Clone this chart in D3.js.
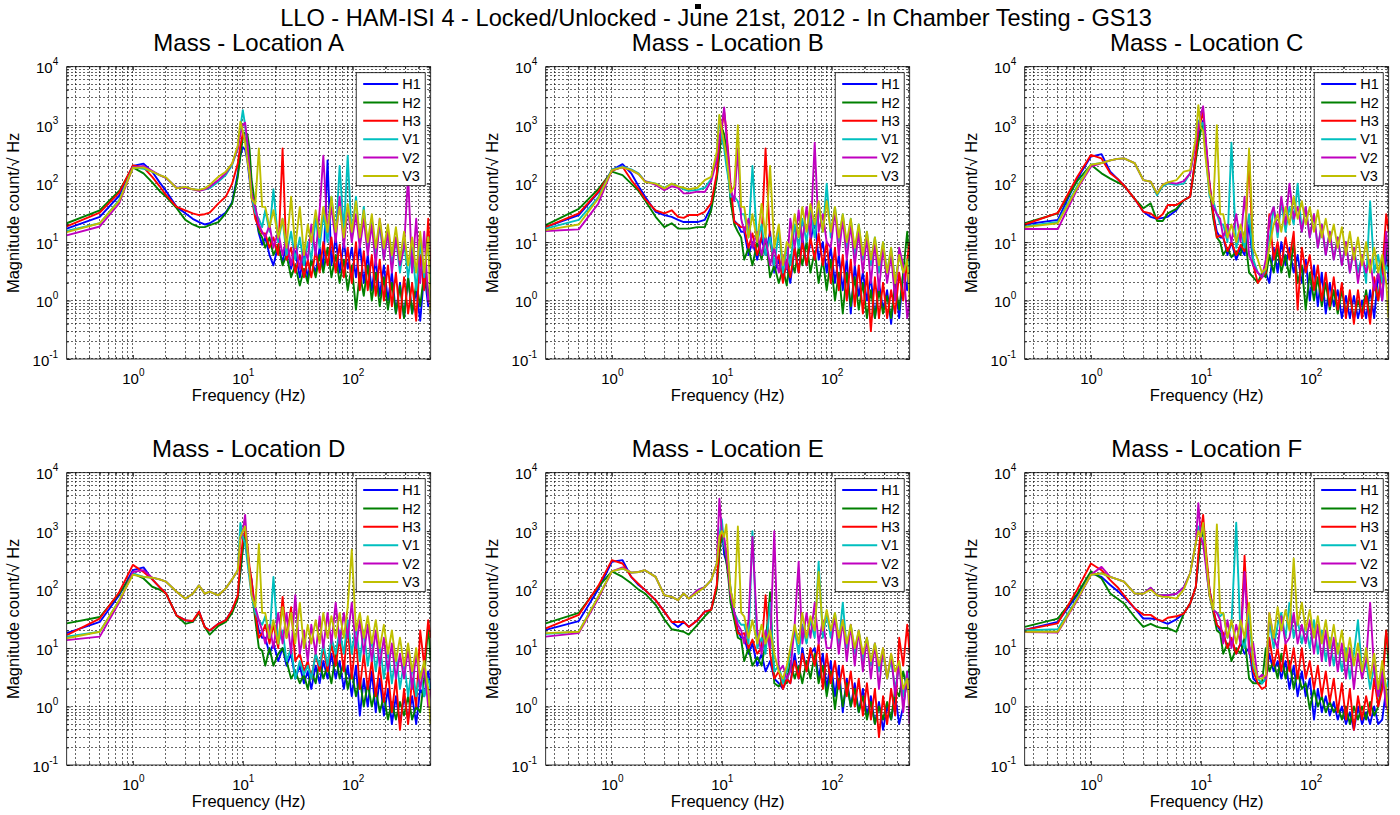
<!DOCTYPE html>
<html>
<head>
<meta charset="utf-8">
<script src="https://cdn.jsdelivr.net/npm/d3@7"></script>
<style>
  body { margin: 0; background: #fff; }
  svg { font-family: "Liberation Sans", Arial, sans-serif; }
</style>
</head>
<body>
<div id="chart"></div>
<script>
const mainTitle = "LLO - HAM-ISI 4 - Locked/Unlocked - June 21st, 2012 - In Chamber Testing - GS13";
const locationTitles = ["Mass - Location A", "Mass - Location B", "Mass - Location C",
                        "Mass - Location D", "Mass - Location E", "Mass - Location F"];
const seriesNames = ["H1", "H2", "H3", "V1", "V2", "V3"];
const seriesColors = ["#0000ff", "#008000", "#ff0000", "#00bfbf", "#bf00bf", "#bfbf00"];
const xTicks = [1, 10, 100];
const yTicks = [0.1, 1, 10, 100, 1000, 10000];

// frequency points (Hz) shared by every curve
const freqs = [
  0.25, 0.5, 0.75, 1, 1.25, 1.5, 1.75, 2, 2.5, 3, 3.5, 4, 4.5, 5, 6, 7, 8, 9, 9.5, 10, 10.5, 11, 11.5, 12, 13, 14, 15,
  16, 17.5, 19, 21, 23, 25, 27.5, 30, 33, 36, 39, 42, 46, 50, 54, 59, 64, 70, 76, 83, 90,
  98, 107, 116, 126, 137, 149, 162, 176, 192, 209, 227, 247, 269, 293, 319, 347, 378, 411, 447, 486, 512
];

// Location A
const A_H1 = [17, 27, 62, 200, 220, 160, 105, 75, 40, 31, 25, 22, 20, 21, 26, 32, 48, 150, 300, 420, 380, 250, 120, 60, 30, 14, 9,
  12, 6, 4, 9, 4.5, 10, 3.5, 7, 2.5, 6, 2.5, 5, 3, 8, 3.5, 250, 4, 12, 3, 10, 3.5,
  8, 2.5, 9, 2, 6, 1.5, 5, 1.2, 4, 1, 3, 0.6, 2, 0.5, 2.5, 0.6, 1.5, 0.45, 3, 0.8, 1.5];
const A_H2 = [21, 35, 75, 190, 150, 105, 75, 60, 38, 24, 20, 18, 18, 19.5, 22, 31, 46, 130, 300, 600, 750, 700, 400, 120, 40, 15, 12,
  8, 12, 6, 9, 4, 6, 2.5, 4, 1.8, 3.5, 2, 5, 2.5, 6, 3, 8, 2.5, 6, 2, 5, 1.5,
  4, 0.7, 3, 1.2, 4, 1, 3, 0.8, 2.5, 0.7, 2, 0.6, 1.8, 0.5, 2.5, 0.6, 2, 0.8, 3, 1.2, 2.5];
const A_H3 = [18.5, 32, 70, 205, 190, 130, 90, 64, 40, 35, 31, 29, 30, 32, 46, 60, 100, 220, 450, 720, 600, 350, 150, 60, 25, 18, 14,
  14, 8, 12, 6, 400, 5, 8, 3, 6, 2.5, 5, 2.5, 7, 3, 10, 4, 12, 3, 9, 2.5, 8,
  2, 10, 1.5, 7, 1.5, 6, 1.2, 5, 1, 4, 0.8, 3, 0.5, 2.5, 0.6, 2, 0.45, 6, 1.5, 25, 3];
const A_V1 = [15.5, 21, 52, 190, 180, 160, 140, 125, 85, 85, 80, 78, 80, 83, 108, 140, 209, 400, 900, 1800, 1000, 400, 150, 60, 31, 25, 18,
  35, 15, 80, 10, 25, 6, 15, 5, 12, 4, 10, 5, 25, 8, 30, 10, 60, 12, 200, 15, 300,
  12, 60, 10, 40, 8, 25, 6, 20, 5, 15, 4, 12, 3, 10, 2.5, 8, 1.5, 10, 2.5, 12, 2];
const A_V2 = [13, 18.5, 46, 190, 200, 165, 140, 125, 85, 85, 80, 75, 80, 88, 115, 150, 220, 400, 700, 1000, 1100, 500, 180, 70, 40, 20, 15,
  12, 20, 8, 15, 6, 12, 4, 10, 3.5, 8, 5, 20, 6, 35, 300, 15, 40, 10, 60, 8, 40,
  10, 30, 8, 25, 6, 20, 4, 25, 5, 15, 3, 12, 4, 8, 140, 3, 25, 2, 15, 1, 0.8];
const A_V3 = [14.8, 21, 50, 185, 190, 160, 140, 128, 83, 88, 80, 78, 83, 95, 131, 160, 220, 450, 1150, 800, 500, 250, 150, 55, 45, 400, 40,
  40, 18, 35, 12, 25, 8, 60, 8, 40, 6, 20, 10, 35, 12, 40, 15, 60, 15, 40, 12, 45,
  15, 50, 12, 35, 10, 30, 8, 25, 8, 20, 6, 18, 5, 15, 4, 12, 3, 15, 3, 12, 0.6];

// Location B
const B_H1 = [18, 29, 70, 170, 215, 150, 90, 60, 33, 29, 27, 24, 22, 22, 22, 24, 40, 130, 400, 700, 500, 300, 130, 60, 23, 20, 15,
  15, 6, 10, 5, 12, 6, 15, 3, 5, 2.5, 4, 2, 8, 3, 12, 4, 10, 25, 5, 10, 3,
  8, 2, 6, 1.5, 5, 0.6, 4, 1.2, 3, 1, 2.5, 0.5, 2, 0.7, 1.5, 0.4, 2, 0.5, 3, 1.5, 8];
const B_H2 = [19.5, 37, 80, 160, 140, 100, 75, 52, 27, 18, 21, 17, 17, 17, 18, 18, 35, 120, 300, 900, 700, 400, 150, 50, 20, 15, 12,
  5, 8, 4, 10, 5, 12, 2.5, 4, 2, 3.5, 1.8, 6, 3, 8, 4, 10, 3, 7, 2, 5, 1.5,
  5, 1, 3, 0.6, 3, 0.8, 2.5, 0.7, 2, 0.5, 1.5, 0.5, 1.5, 0.6, 1.2, 0.5, 2, 0.7, 3, 15, 4];
const B_H3 = [18, 31, 72, 165, 195, 115, 80, 55, 35, 31, 35, 27, 26, 29, 29, 33, 46, 150, 500, 900, 1700, 800, 300, 100, 22, 20, 18,
  18, 8, 14, 6, 12, 400, 10, 4, 6, 2, 5, 2.5, 8, 3, 10, 4, 12, 5, 14, 4, 10,
  2, 8, 1.5, 6, 1, 5, 0.8, 4, 0.6, 3, 0.3, 2.5, 0.5, 2, 0.5, 1.5, 0.6, 3, 1, 5, 10];
const B_V1 = [17, 24, 58, 175, 195, 175, 150, 110, 100, 85, 100, 90, 80, 75, 78, 85, 120, 300, 1450, 600, 400, 200, 120, 60, 60, 50, 30,
  30, 12, 200, 10, 20, 6, 12, 4, 15, 3, 8, 4, 20, 8, 25, 10, 35, 12, 40, 15, 100,
  12, 40, 10, 30, 8, 25, 6, 20, 5, 15, 4, 12, 3, 10, 3, 8, 2, 6, 3, 5, 3];
const B_V2 = [15.5, 16.5, 45, 170, 190, 170, 145, 110, 95, 77, 90, 85, 68, 68, 73, 72, 110, 250, 600, 1000, 2000, 700, 250, 80, 50, 400, 25,
  15, 25, 8, 15, 6, 12, 4, 8, 3, 6, 3.5, 25, 8, 35, 10, 40, 12, 500, 15, 30, 10,
  8, 35, 6, 25, 5, 20, 4, 15, 3, 12, 2, 10, 1.5, 8, 2, 6, 1, 8, 4, 0.5, 1];
const B_V3 = [16, 20, 55, 170, 190, 170, 145, 107, 100, 83, 100, 90, 85, 80, 85, 115, 130, 350, 1500, 800, 500, 300, 150, 70, 90, 1000, 40,
  40, 12, 30, 10, 45, 12, 200, 8, 20, 4, 10, 8, 30, 12, 40, 15, 45, 20, 50, 15, 50,
  15, 40, 12, 30, 10, 25, 8, 20, 6, 15, 5, 12, 4, 10, 3, 8, 2, 6, 3, 5, 1];

// Location C
const C_H1 = [20, 24, 120, 290, 320, 160, 120, 93, 55, 33, 27, 25, 26, 27, 35, 52, 60, 300, 600, 900, 1200, 500, 200, 100, 30, 15, 12,
  12, 6, 10, 5, 8, 6, 20, 4, 3, 2.5, 3, 2, 8, 3, 10, 4, 8, 3, 6, 2, 5,
  1, 4, 0.8, 3, 0.6, 2, 0.8, 1.5, 0.5, 1.2, 0.5, 1.2, 0.5, 1, 0.5, 1.5, 0.5, 3, 1, 8, 2];
const C_H2 = [21, 31, 110, 210, 150, 122, 105, 93, 55, 38, 46, 23, 23, 31, 37, 52, 60, 250, 500, 800, 1000, 600, 200, 80, 25, 12, 10,
  6, 8, 5.5, 7, 6, 15, 3, 2.5, 2, 3, 2.5, 6, 3, 8, 3, 6, 2.5, 10, 2, 4, 0.7,
  3, 1, 2.5, 0.8, 2, 0.7, 1.5, 0.6, 1.5, 0.6, 1.2, 0.5, 1, 0.6, 1.5, 0.5, 2, 1, 5, 10, 3];
const C_H3 = [20, 31.5, 130, 310, 270, 150, 120, 93, 55, 33, 31, 25, 30, 43, 43, 52, 60, 300, 800, 1200, 1700, 600, 250, 100, 30, 12, 13,
  12, 7, 10, 6, 9, 7, 300, 4, 2, 2.5, 3, 30, 5, 10, 4, 12, 5, 15, 0.7, 8, 3,
  6, 1.5, 4, 1, 3, 0.8, 2.5, 0.7, 2, 0.5, 1.5, 0.4, 1.5, 0.5, 1.2, 0.4, 2.5, 1, 3, 30, 15];
const C_V1 = [18.5, 22, 90, 210, 225, 250, 265, 270, 225, 115, 108, 63, 90, 100, 95, 100, 150, 550, 1200, 1000, 1100, 400, 150, 60, 50, 30, 20,
  20, 10, 500, 8, 15, 8, 30, 5, 3, 2.5, 3.5, 10, 40, 12, 50, 15, 40, 20, 100, 15, 40,
  12, 30, 8, 20, 6, 15, 5, 12, 4, 10, 3, 8, 3, 6, 2, 50, 3, 6, 2, 4, 3];
const C_V2 = [16.7, 16.7, 80, 195, 225, 250, 265, 270, 225, 115, 108, 68, 95, 105, 100, 110, 150, 500, 900, 1500, 2100, 700, 250, 80, 40, 30, 25,
  12, 20, 10, 30, 10, 60, 6, 4, 3, 2.5, 5, 25, 40, 15, 60, 20, 100, 25, 40, 15, 40,
  12, 30, 8, 20, 6, 15, 5, 12, 4, 10, 3, 8, 2, 6, 3, 5, 1.5, 3, 1, 15, 4];
const C_V3 = [18, 21, 85, 210, 225, 250, 265, 270, 225, 115, 108, 68, 95, 105, 115, 160, 170, 600, 2200, 900, 800, 300, 150, 70, 45, 1000, 30,
  30, 12, 20, 10, 20, 10, 400, 8, 5, 3, 3.5, 8, 20, 30, 15, 40, 20, 60, 25, 50, 20,
  40, 15, 35, 12, 25, 10, 20, 8, 18, 6, 15, 5, 12, 4, 10, 3, 8, 3, 6, 2, 0.5];

// Location D
const D_H1 = [18, 28, 80, 215, 240, 150, 110, 86, 36, 30, 28, 42, 23, 20, 26, 30, 45, 75, 200, 500, 800, 400, 200, 150, 40, 20, 15,
  15, 8, 12, 6, 10, 5, 8, 3, 5, 2.5, 4, 2, 5, 2.5, 6, 3, 8, 3, 6, 2, 5,
  1.5, 5, 0.7, 3, 1, 4, 0.8, 3, 0.7, 2, 0.5, 1.5, 0.5, 1.5, 0.6, 1.5, 0.5, 2, 1.5, 4, 2];
const D_H2 = [26.5, 34, 85, 190, 155, 112, 100, 86, 36, 26, 28, 40, 23, 17, 24, 28, 40, 70, 200, 500, 1000, 500, 200, 100, 30, 10, 9,
  5, 10, 5, 8, 10, 6, 3, 4, 2.5, 3.5, 2, 4, 2.5, 6, 3, 5, 2.5, 8, 3, 6, 2,
  4, 1.5, 3, 1, 2.5, 1, 2, 0.8, 1.5, 0.6, 1.2, 0.6, 1.2, 0.7, 1.5, 0.6, 1, 0.8, 3, 25, 6];
const D_H3 = [16.7, 32, 90, 265, 200, 150, 110, 86, 36, 30, 29, 42, 23, 20, 26, 30, 45, 80, 300, 700, 1000, 600, 250, 150, 40, 15, 18,
  25, 12, 25, 10, 75, 15, 50, 6, 8, 4, 6, 3, 8, 4, 10, 4, 12, 5, 15, 4, 25,
  3, 15, 2, 8, 2, 6, 1.5, 5, 1.2, 4, 0.8, 3, 0.4, 2, 0.5, 3, 1, 20, 5, 30, 15];
const D_V1 = [15.7, 19, 65, 190, 165, 160, 150, 137, 92, 70, 85, 118, 85, 92, 80, 105, 150, 215, 1380, 800, 600, 300, 150, 80, 40, 30, 25,
  35, 15, 165, 12, 20, 6, 10, 3, 6, 3.5, 5, 3, 8, 5, 12, 5, 15, 8, 20, 8, 30,
  8, 25, 6, 20, 5, 15, 4, 12, 3, 10, 2.5, 8, 2, 6, 1.5, 5, 1.5, 4, 1.5, 3, 2];
const D_V2 = [13.7, 15.7, 60, 200, 215, 160, 150, 137, 92, 70, 85, 118, 85, 92, 80, 105, 150, 215, 700, 1000, 1900, 500, 200, 90, 50, 30, 20,
  12, 25, 10, 40, 12, 40, 8, 80, 8, 20, 6, 25, 8, 35, 10, 40, 12, 60, 12, 40, 15,
  60, 10, 30, 8, 25, 6, 20, 5, 15, 4, 12, 3, 8, 3, 10, 2, 8, 2, 5, 1, 2];
const D_V3 = [14.7, 19, 65, 180, 165, 160, 150, 137, 92, 70, 85, 118, 85, 92, 80, 105, 150, 215, 800, 1000, 1200, 500, 200, 80, 50, 600, 40,
  40, 15, 30, 12, 50, 15, 40, 12, 60, 10, 25, 12, 30, 12, 40, 15, 35, 15, 40, 15, 50,
  480, 20, 40, 15, 35, 12, 30, 10, 25, 8, 20, 6, 15, 5, 12, 4, 10, 3, 6, 2, 0.5];

// Location E
const E_H1 = [20.5, 29, 100, 300, 320, 165, 120, 99, 66, 42, 28, 23, 28, 23, 30, 42, 45, 110, 500, 1200, 400, 300, 200, 100, 37, 20, 15,
  15, 8, 12, 5, 8, 4, 6, 3, 2.5, 2, 3, 2.5, 8, 3, 10, 4, 8, 10, 3, 8, 2,
  6, 1.5, 5, 0.8, 3, 1, 2.5, 0.8, 2, 0.7, 1.5, 0.5, 1.2, 0.4, 1, 0.6, 1.5, 0.5, 1, 3, 2];
const E_H2 = [26.5, 40, 110, 205, 165, 128, 100, 86, 55, 31, 21, 20, 19, 17, 25, 35, 45, 100, 400, 900, 600, 300, 150, 60, 30, 15, 14,
  6, 10, 5, 7, 5, 12, 90, 2.5, 2.2, 3, 2.5, 6, 3, 5, 2.5, 6, 3, 8, 2.5, 5, 1.5,
  4, 0.9, 3, 1, 2.5, 1, 2, 0.8, 1.5, 0.6, 1.2, 0.5, 1, 0.6, 1.2, 0.6, 2, 1.5, 4, 2, 5];
const E_H3 = [21.8, 37, 115, 320, 280, 165, 125, 99, 66, 42, 28, 28, 28, 23, 30, 42, 45, 120, 600, 1000, 700, 400, 200, 100, 40, 18, 17,
  18, 10, 14, 8, 10, 80, 8, 3, 4, 2, 3, 2.5, 6, 3, 8, 4, 10, 5, 12, 2, 8,
  2.5, 6, 2, 5, 1.5, 4, 1, 3, 0.7, 2.5, 0.6, 2, 0.3, 1.5, 0.5, 2, 0.7, 15, 5, 25, 8];
const E_V1 = [17.5, 19, 75, 205, 230, 195, 200, 215, 165, 80, 75, 66, 86, 70, 98, 110, 145, 280, 800, 1600, 600, 400, 300, 100, 40, 30, 25,
  25, 12, 1000, 10, 15, 8, 60, 4, 5, 2.5, 4, 8, 20, 8, 25, 12, 30, 15, 300, 15, 40,
  15, 40, 12, 60, 10, 25, 8, 20, 6, 15, 5, 12, 4, 8, 3, 6, 2, 5, 1.5, 4, 3];
const E_V2 = [15.7, 18, 70, 205, 240, 195, 200, 215, 165, 80, 75, 66, 86, 70, 98, 110, 145, 280, 3600, 1000, 800, 400, 200, 80, 40, 25, 20,
  12, 30, 800, 20, 8, 20, 10, 1000, 4, 5, 3, 4, 25, 300, 12, 40, 15, 60, 12, 30, 10,
  10, 35, 8, 30, 6, 25, 5, 20, 4, 15, 3, 12, 2, 10, 3, 8, 1.5, 6, 0.8, 4, 0.5];
const E_V3 = [18, 19, 75, 205, 230, 195, 200, 215, 165, 80, 75, 66, 86, 70, 90, 110, 145, 280, 800, 1000, 800, 1300, 300, 100, 50, 1200, 40,
  35, 15, 30, 12, 25, 12, 20, 8, 4, 3, 5, 10, 25, 12, 40, 15, 35, 20, 200, 20, 45,
  20, 40, 15, 30, 12, 25, 10, 20, 8, 15, 6, 12, 5, 10, 3, 8, 4, 6, 2, 3, 1];

// Location F
const F_H1 = [20.5, 28, 80, 190, 165, 120, 95, 75, 48, 32, 32, 31, 28, 26, 31, 39, 58, 110, 300, 800, 1000, 400, 200, 100, 45, 25, 20,
  18, 10, 14, 8, 12, 8, 10, 3, 2.5, 2.5, 3, 8, 4, 6, 3, 6, 2, 5, 1.5, 4, 1.5,
  3, 0.6, 2, 0.8, 1.5, 0.7, 1.2, 0.6, 1, 0.5, 0.8, 0.4, 1, 0.5, 0.8, 0.5, 1, 0.5, 0.6, 2, 1];
const F_H2 = [23, 32, 85, 205, 155, 86, 70, 58, 34, 23, 26, 23, 22, 22, 19, 39, 58, 110, 300, 700, 1200, 500, 200, 80, 40, 20, 18,
  8, 12, 6, 10, 8, 15, 3, 2.5, 2.5, 2.5, 10, 4, 6, 3, 8, 3, 6, 2, 4, 2, 2.5,
  0.9, 2, 1, 1.5, 0.8, 1.2, 0.8, 1, 0.6, 1, 0.5, 1, 0.6, 1, 0.6, 1.2, 0.7, 1, 3, 20, 5];
const F_H3 = [20.5, 26.5, 100, 280, 215, 145, 110, 80, 48, 37, 37, 31, 29, 33, 35, 39, 58, 110, 400, 1000, 1900, 600, 250, 100, 45, 25, 22,
  18, 10, 15, 8, 12, 380, 12, 4, 2.5, 2, 2.2, 15, 5, 10, 4, 12, 4, 10, 3, 10, 3,
  6, 2, 5, 1.5, 4, 1.2, 3, 0.8, 2.5, 0.6, 2, 0.4, 1.5, 0.6, 1.5, 0.7, 3, 1, 2, 20, 8];
const F_V1 = [20, 21, 70, 180, 190, 165, 150, 137, 86, 85, 108, 80, 80, 80, 85, 110, 190, 620, 1200, 1000, 1200, 400, 150, 80, 45, 40, 35,
  40, 15, 25, 1400, 15, 10, 40, 5, 3, 2.5, 3, 30, 10, 25, 40, 15, 60, 15, 30, 12, 25,
  10, 30, 8, 20, 6, 15, 5, 12, 4, 10, 3, 8, 30, 4, 6, 2, 5, 1.5, 4, 2, 3];
const F_V2 = [18.8, 18.4, 65, 180, 245, 165, 150, 137, 86, 85, 108, 80, 80, 80, 85, 110, 190, 620, 3000, 800, 600, 300, 150, 80, 45, 40, 30,
  12, 30, 10, 25, 12, 200, 8, 12, 3, 3.5, 3, 40, 15, 10, 35, 12, 15, 40, 12, 25, 12,
  30, 8, 25, 6, 20, 5, 15, 4, 12, 3, 10, 2, 8, 3, 6, 60, 4, 1.5, 4, 1, 0.8];
const F_V3 = [19, 19, 68, 180, 190, 165, 150, 137, 86, 85, 100, 80, 75, 75, 70, 100, 190, 620, 1000, 800, 1380, 500, 200, 80, 45, 1300, 40,
  40, 15, 30, 12, 30, 15, 60, 6, 3, 3, 3.5, 40, 15, 50, 20, 45, 20, 340, 25, 60, 20,
  45, 15, 35, 12, 30, 10, 25, 8, 20, 6, 15, 5, 12, 4, 10, 3, 8, 2, 6, 2, 0.6];

const panels = [
  [A_H1, A_H2, A_H3, A_V1, A_V2, A_V3],
  [B_H1, B_H2, B_H3, B_V1, B_V2, B_V3],
  [C_H1, C_H2, C_H3, C_V1, C_V2, C_V3],
  [D_H1, D_H2, D_H3, D_V1, D_V2, D_V3],
  [E_H1, E_H2, E_H3, E_V1, E_V2, E_V3],
  [F_H1, F_H2, F_H3, F_V1, F_V2, F_V3]
];

const panelLefts = [66.7, 545.7, 1024.7];
const panelTops = [66.7, 472.7];
const panelW = 364, panelH = 292.3;

const svg = d3.select("#chart").append("svg")
  .attr("width", 1400)
  .attr("height", 815);

svg.append("text")
  .attr("x", 716)
  .attr("y", 25.5)
  .attr("text-anchor", "middle")
  .attr("font-size", 23.6)
  .text(mainTitle);

// stray mark above the title
svg.append("rect")
  .attr("x", 695).attr("y", 4)
  .attr("width", 6).attr("height", 5)
  .attr("fill", "#000");

const x = d3.scaleLog().domain([0.25, 512]).range([0, panelW]);
const y = d3.scaleLog().domain([0.1, 10000]).range([panelH, 0]);

// minor + major grid positions for each decade
var xGrid = [], yGrid = [];
[0.1, 1, 10, 100].forEach(function(d){
  for (var k = 1; k <= 9; k++){
    var v = d * k;
    if (v >= 0.25 && v <= 512) xGrid.push(v);
  }
});
[0.1, 1, 10, 100, 1000].forEach(function(d){
  for (var k = 1; k <= 9; k++) yGrid.push(d * k);
});
yGrid.push(10000);
const xMinor = xGrid.filter(v => xTicks.indexOf(v) < 0);
const yMinor = yGrid.filter(v => yTicks.indexOf(v) < 0);

function superLabels(sel){
  sel.selectAll(".tick text").each(function(d){
    const t = d3.select(this);
    t.text(null);
    t.append("tspan").text("10");
    t.append("tspan").attr("dy", -8).attr("font-size", 10)
      .text(String(Math.round(Math.log10(d))));
  });
}

function drawPanel(series, idx){
  const left = panelLefts[idx % 3];
  const top = panelTops[Math.floor(idx / 3)];
  const g = svg.append("g").attr("transform", `translate(${left},${top})`);

  g.append("rect").attr("width", panelW).attr("height", panelH).attr("fill", "#fff");

  g.append("clipPath").attr("id", "clip" + idx)
    .append("rect").attr("width", panelW).attr("height", panelH);

  const grid = g.append("g")
    .attr("stroke", "#000")
    .attr("stroke-width", 0.6)
    .attr("stroke-dasharray", "2,2")
    .attr("shape-rendering", "crispEdges");

  grid.selectAll(".vx").data(xGrid).enter().append("line")
    .attr("x1", d => x(d)).attr("x2", d => x(d))
    .attr("y1", 0).attr("y2", panelH);
  grid.selectAll(".hy").data(yGrid).enter().append("line")
    .attr("y1", d => y(d)).attr("y2", d => y(d))
    .attr("x1", 0).attr("x2", panelW);

  const line = d3.line()
    .x(d => x(d[0]))
    .y(d => y(d[1]));

  const lines = g.append("g").attr("clip-path", `url(#clip${idx})`);
  series.forEach(function(s, j){
    const pts = freqs.map((f, k) => [f, s[k]]).filter(d => d[1] != null);
    lines.append("path")
      .datum(pts)
      .attr("d", line)
      .attr("fill", "none")
      .attr("stroke", seriesColors[j])
      .attr("stroke-width", 1.9)
      .attr("stroke-linejoin", "round");
  });

  // tick marks (inside, all four sides)
  const tickStyle = a => a.attr("font-family", null).attr("font-size", null)
    .call(s => s.select(".domain").remove())
    .call(s => s.selectAll(".tick line").attr("stroke", "#000").attr("stroke-width", 0.8));

  g.append("g").attr("transform", `translate(0,${panelH})`)
    .call(d3.axisBottom(x).tickValues(xMinor).tickSize(-2).tickFormat("")).call(tickStyle);
  g.append("g")
    .call(d3.axisTop(x).tickValues(xMinor).tickSize(-2).tickFormat("")).call(tickStyle);
  g.append("g")
    .call(d3.axisLeft(y).tickValues(yMinor).tickSize(-2).tickFormat("")).call(tickStyle);
  g.append("g").attr("transform", `translate(${panelW},0)`)
    .call(d3.axisRight(y).tickValues(yMinor).tickSize(-2).tickFormat("")).call(tickStyle);
  g.append("g")
    .call(d3.axisTop(x).tickValues(xTicks).tickSize(-4).tickFormat("")).call(tickStyle);
  g.append("g").attr("transform", `translate(${panelW},0)`)
    .call(d3.axisRight(y).tickValues(yTicks).tickSize(-4).tickFormat("")).call(tickStyle);

  const xAxis = g.append("g").attr("transform", `translate(0,${panelH})`)
    .call(d3.axisBottom(x).tickValues(xTicks).tickSize(-4).tickPadding(0))
    .call(tickStyle);
  xAxis.selectAll(".tick text")
    .attr("y", 24.5).attr("dy", null)
    .attr("font-size", 15).attr("fill", "#000");
  superLabels(xAxis);

  const yAxis = g.append("g")
    .call(d3.axisLeft(y).tickValues(yTicks).tickSize(-4).tickPadding(0))
    .call(tickStyle);
  yAxis.selectAll(".tick text")
    .attr("x", -8.5).attr("dy", 6)
    .attr("font-size", 15).attr("fill", "#000");
  superLabels(yAxis);

  g.append("rect")
    .attr("width", panelW).attr("height", panelH)
    .attr("fill", "none").attr("stroke", "#000").attr("stroke-width", 0.8);

  g.append("text")
    .attr("x", panelW / 2).attr("y", -15.5)
    .attr("text-anchor", "middle")
    .attr("font-size", 24)
    .text(locationTitles[idx]);

  g.append("text")
    .attr("x", panelW / 2).attr("y", panelH + 42.5)
    .attr("text-anchor", "middle")
    .attr("font-size", 16.5)
    .text("Frequency (Hz)");

  g.append("text")
    .attr("transform", `translate(${-48},${panelH / 2}) rotate(-90)`)
    .attr("text-anchor", "middle")
    .attr("font-size", 16.5)
    .text("Magnitude count/\u221a Hz");

  // legend
  const lw = 69, lh = 113;
  const leg = g.append("g").attr("transform", `translate(${panelW - 5.5 - lw},6)`);
  leg.append("rect").attr("width", lw).attr("height", lh)
    .attr("fill", "#fff").attr("stroke", "#000").attr("stroke-width", 0.8);
  seriesNames.forEach(function(name, j){
    const ry = 11.3 + j * 18.4;
    leg.append("line")
      .attr("x1", 7).attr("x2", 42).attr("y1", ry).attr("y2", ry)
      .attr("stroke", seriesColors[j]).attr("stroke-width", 2);
    leg.append("text")
      .attr("x", 46).attr("y", ry + 5.3)
      .attr("font-size", 14.5)
      .text(name);
  });
}

panels.forEach(drawPanel);
</script>
</body>
</html>
